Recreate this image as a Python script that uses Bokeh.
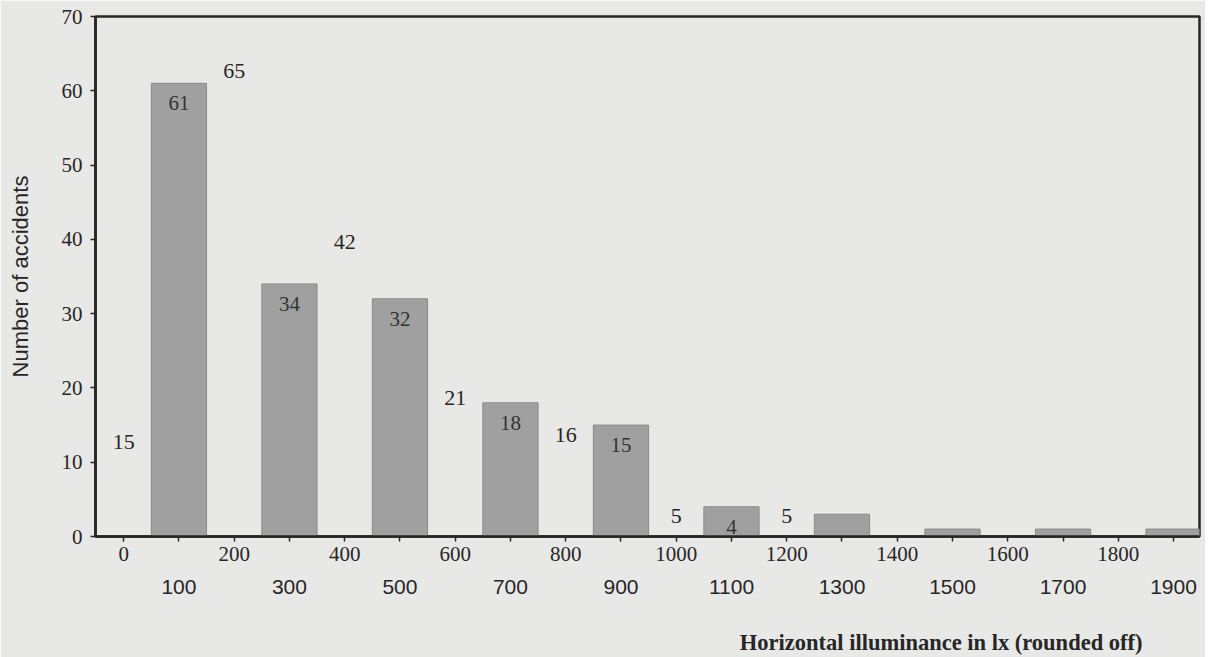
from bokeh.plotting import figure
from bokeh.models import Range1d, LinearAxis, FixedTicker, Title
from bokeh.embed import file_html
from bokeh.resources import INLINE
from bokeh.core.properties import value

# ---- data ----
illuminance = [100, 300, 500, 700, 900, 1100, 1300, 1500, 1700, 1900]
accidents = [61, 34, 32, 18, 15, 4, 3, 1, 1, 1]
labelled_bars = 6  # only the first six bars carry a printed value
# second set of figures printed between the bars
between_x = [0, 200, 400, 600, 800, 1000, 1200]
between_values = [15, 65, 42, 21, 16, 5, 5]
even_ticks = [0, 200, 400, 600, 800, 1000, 1200, 1400, 1600, 1800]
odd_ticks = [100, 300, 500, 700, 900, 1100, 1300, 1500, 1700, 1900]
y_ticks = [0, 10, 20, 30, 40, 50, 60, 70]

PAPER = "#e8e8e6"
INK = "#262626"
SERIF = "Liberation Serif"
SANS = "Liberation Sans"
FS = "21px"

p = figure(frame_width=1104, frame_height=520,
           x_range=Range1d(-51, 1947), y_range=Range1d(0, 70),
           x_axis_type=None, y_axis_type=None,
           output_backend="svg", toolbar_location=None,
           min_border_left=95, min_border_right=6, min_border_top=16,
           min_border_bottom=0)
p.background_fill_color = PAPER
p.border_fill_color = PAPER
p.outline_line_color = INK
p.outline_line_width = 2.5

p.vbar(x=illuminance, top=accidents, width=100, bottom=0,
       fill_color="#a0a0a0", line_color="#8a8a8a", line_width=1)

p.text(x=illuminance[:labelled_bars], y=accidents[:labelled_bars],
       text=[str(v) for v in accidents[:labelled_bars]],
       text_align="center", text_baseline="middle", y_offset=20,
       text_font=value(SERIF), text_font_size="21px", text_color="#333333")

p.text(x=between_x, y=between_values, text=[str(v) for v in between_values],
       text_align="center", text_baseline="middle", y_offset=17,
       text_font=value(SERIF), text_font_size="22px", text_color=INK)

yaxis = LinearAxis(ticker=FixedTicker(ticks=y_ticks),
                   axis_label="Number of accidents",
                   axis_label_text_font=SANS, axis_label_text_font_size="22px",
                   axis_label_text_font_style="normal", axis_label_text_color=INK,
                   axis_label_standoff=26,
                   major_label_text_font=SERIF, major_label_text_font_size=FS,
                   major_label_text_color=INK, major_label_standoff=8,
                   axis_line_color=INK, axis_line_width=2.5,
                   major_tick_line_color=INK, major_tick_line_width=1.5,
                   major_tick_out=5, major_tick_in=0)
p.add_layout(yaxis, "left")

xaxis1 = LinearAxis(ticker=FixedTicker(ticks=even_ticks, minor_ticks=odd_ticks),
                    major_label_text_font=SERIF, major_label_text_font_size=FS,
                    major_label_text_color=INK, major_label_standoff=5,
                    axis_line_color=INK, axis_line_width=2.5,
                    major_tick_line_color=INK, major_tick_line_width=1.5,
                    major_tick_out=5, major_tick_in=0,
                    minor_tick_line_color=INK, minor_tick_line_width=1.5,
                    minor_tick_out=5, minor_tick_in=0)
p.add_layout(xaxis1, "below")

xaxis2 = LinearAxis(ticker=FixedTicker(ticks=odd_ticks),
                    major_label_text_font=SANS, major_label_text_font_size=FS,
                    major_label_text_color=INK, major_label_standoff=16,
                    axis_line_color=None, major_tick_line_color=None,
                    major_tick_out=0, major_tick_in=0,
                    minor_tick_line_color=None)
p.add_layout(xaxis2, "below")

title = Title(text="Horizontal illuminance in lx (rounded off)", align="right",
              offset=57, standoff=62, text_font=SERIF, text_font_style="bold",
              text_font_size="22.5px", text_color=INK)
p.add_layout(title, "below")

open("out.html", "w").write(file_html(p, INLINE))
